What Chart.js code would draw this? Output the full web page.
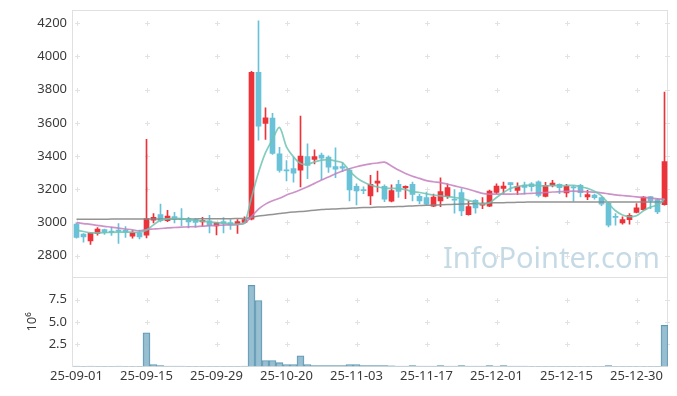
<!DOCTYPE html>
<html><head><meta charset="utf-8">
<script src="https://cdn.jsdelivr.net/npm/chart.js@4/dist/chart.umd.min.js"></script>
<style>html,body{margin:0;padding:0;background:#fff}#wrap{width:677px;height:396px}</style>
</head><body><div id="wrap"><canvas id="c"></canvas></div>
<script>
const dates = ["25-09-01","25-09-02","25-09-03","25-09-04","25-09-05","25-09-08","25-09-09","25-09-10","25-09-11","25-09-12",
"25-09-15","25-09-16","25-09-17","25-09-18","25-09-19","25-09-22","25-09-23","25-09-24","25-09-25","25-09-26",
"25-09-29","25-09-30","25-10-01","25-10-02","25-10-10","25-10-13","25-10-14","25-10-15","25-10-16","25-10-17",
"25-10-20","25-10-21","25-10-22","25-10-23","25-10-24","25-10-27","25-10-28","25-10-29","25-10-30","25-10-31",
"25-11-03","25-11-04","25-11-05","25-11-06","25-11-07","25-11-10","25-11-11","25-11-12","25-11-13","25-11-14",
"25-11-17","25-11-18","25-11-19","25-11-20","25-11-21","25-11-24","25-11-25","25-11-26","25-11-27","25-11-28",
"25-12-01","25-12-02","25-12-03","25-12-04","25-12-05","25-12-08","25-12-09","25-12-10","25-12-11","25-12-12",
"25-12-15","25-12-16","25-12-17","25-12-18","25-12-19","25-12-22","25-12-23","25-12-24","25-12-26","25-12-29",
"25-12-30","26-01-02","26-01-05","26-01-06","26-01-07"];

const opens = [2990,2930,2889,2933,2957,2947,2953,2953,2917,2937, 2923,3013,3047,3010,3035,3025,3021,3018,3003,3010,
2979,3005,2999,2987,3000,3020,3905,3597,3628,3413, 3317,3325,3315,3397,3380,3405,3393,3337,3337,3315,
3217,3197,3160,3237,3217,3128,3229,3207,3230,3157, 3149,3098,3130,3155,3141,3180,3047,3133,3103,3098,
3181,3205,3240,3193,3225,3233,3245,3157,3223,3229, 3178,3212,3223,3153,3165,3149,3115,3035,2997,3017,
3060,3077,3155,3137,3107];
const highs = [2995,2932,2937,2968,2960,2970,2993,2975,2950,2953, 3500,3053,3110,3073,3061,3083,3030,3025,3030,3043,
3000,3029,3017,3017,3033,3910,4215,3690,3657,3453, 3373,3393,3641,3473,3437,3417,3401,3449,3360,3325,
3233,3215,3283,3309,3227,3227,3253,3220,3243,3169, 3183,3170,3268,3233,3198,3203,3127,3137,3149,3195,
3233,3243,3240,3239,3243,3240,3250,3241,3253,3232, 3229,3222,3229,3193,3170,3153,3120,3053,3033,3053,
3113,3155,3157,3145,3785];
const lows = [2905,2880,2867,2923,2927,2921,2873,2910,2905,2900, 2907,2997,3003,3005,2997,2980,2967,2970,2975,2937,
2925,2937,2957,2933,2995,3015,3495,3500,3410,3303, 3250,3243,3213,3263,3353,3257,3301,3270,3305,3130,
3105,3173,3107,3183,3125,3123,3150,3143,3130,3113, 3105,3095,3095,3145,3055,3040,3043,3055,3083,3095,
3173,3175,3185,3167,3170,3188,3153,3153,3213,3173, 3153,3128,3153,3137,3140,3100,2973,2983,2989,2989,
3057,3073,3083,3053,3103];
const closes = [2910,2913,2935,2960,2940,2940,2946,2941,2939,2913, 3023,3030,3010,3038,3018,3017,3003,3000,3013,2982,
2999,2993,2985,3005,3017,3905,3580,3630,3415,3313, 3310,3297,3400,3343,3397,3387,3333,3320,3327,3195,
3189,3191,3229,3249,3140,3191,3187,3217,3168,3129, 3110,3153,3185,3209,3134,3069,3095,3087,3113,3188,
3219,3219,3228,3217,3210,3215,3163,3223,3237,3209, 3217,3208,3179,3167,3149,3110,2983,3030,3017,3043,
3087,3153,3130,3063,3367];
// volume in millions of shares
const volumes = [0.03,0.02,0.03,0.02,0.02,0.02,0.03,0.02,0.02,0.02, 3.78,0.2,0.1,0.04,0.03,0.03,0.02,0.02,0.02,0.02,
0.02,0.02,0.02,0.02,0.03,9.1,7.4,0.66,0.66,0.42, 0.2,0.2,1.2,0.2,0.1,0.1,0.1,0.1,0.1,0.2,
0.2,0.1,0.1,0.1,0.1,0.05,0.04,0.04,0.1,0.03, 0.03,0.03,0.1,0.03,0.03,0.1,0.03,0.03,0.03,0.1,
0.03,0.1,0.03,0.03,0.03,0.02,0.02,0.02,0.02,0.02, 0.02,0.02,0.02,0.02,0.02,0.02,0.1,0.02,0.02,0.02,
0.02,0.02,0.02,0.02,4.6];
const maShort = [2953,2945,2937,2937,2938,2940,2941,2941,2941,2941, 2953,2985,3013,3022,3025,3023,3017,3013,3008,3003,
2999,2995,2991,2990,2997,3150,3300,3420,3500,3572, 3455,3395,3355,3350,3365,3375,3378,3370,3360,3310,
3270,3243,3225,3213,3207,3205,3203,3197,3185,3180, 3172,3165,3160,3155,3150,3143,3133,3120,3110,3118,
3150,3180,3205,3217,3222,3225,3222,3220,3222,3222, 3222,3223,3215,3205,3187,3160,3113,3070,3045,3035,
3040,3070,3092,3105,3140];
const maMid = [2999,2993,2988,2982,2976,2971,2965,2960,2955,2949, 2957,2960,2963,2967,2969,2971,2973,2975,2978,2980,
2982,2984,2985,2987,2995,3035,3080,3110,3130,3145, 3165,3180,3197,3215,3235,3255,3273,3293,3310,3323,
3335,3345,3353,3358,3363,3340,3315,3295,3278,3265, 3252,3245,3240,3230,3220,3210,3200,3187,3175,3170,
3170,3170,3170,3171,3173,3175,3177,3180,3183,3185, 3187,3188,3186,3184,3182,3178,3172,3166,3162,3158,
3154,3150,3147,3142,3140];
const maLong = [3019,3019,3019,3019,3019,3020,3020,3020,3020,3020, 3020,3020,3021,3021,3021,3021,3021,3021,3022,3022,
3022,3022,3022,3023,3024,3030,3038,3043,3048,3053, 3058,3062,3065,3069,3073,3077,3079,3081,3083,3085,
3087,3089,3090,3092,3093,3094,3095,3097,3099,3101, 3103,3104,3106,3108,3109,3111,3112,3114,3115,3117,
3118,3119,3120,3121,3122,3123,3123,3123,3123,3123, 3123,3123,3123,3123,3123,3123,3123,3123,3123,3123,
3123,3123,3123,3123,3123];
const priceTicks = [2800,3000,3200,3400,3600,3800,4000,4200];
const volumeTicks = [2.5,5.0,7.5];
const volumeTitle = "10\u2076";
const watermark = "InfoPointer.com";

const RED = '#ec3339', BLUE = '#6ac2d9';
const candleColors = opens.map((o,i)=> closes[i] >= o ? RED : BLUE);
const FONT = {family:"'Noto Sans', 'DejaVu Sans', sans-serif", size:13};

const decor = {
  id:'decor',
  beforeDatasetsDraw(chart){
    const ctx = chart.ctx, a = chart.chartArea;
    const xs = chart.scales.x, ys = chart.scales.y, yv = chart.scales.yv;
    ctx.save();
    // watermark
    ctx.fillStyle = 'rgba(150,188,208,0.55)';
    let size = 34;
    ctx.font = size + "px 'Noto Sans', sans-serif";
    const w = ctx.measureText(watermark).width;
    size = size * 217 / w;
    ctx.font = size + "px 'Noto Sans', sans-serif";
    ctx.textBaseline = 'alphabetic';
    ctx.fillText(watermark, 443, 268);
    // frames
    ctx.strokeStyle = '#e0e0e0';
    ctx.lineWidth = 1;
    ctx.strokeRect(Math.round(a.left)-0.5, Math.round(ys.top)+0.5, Math.round(a.right-a.left), Math.round(ys.bottom-ys.top));
    ctx.strokeRect(Math.round(a.left)-0.5, Math.round(yv.top)+0.5, Math.round(a.right-a.left), Math.round(yv.bottom-yv.top));
    // crosses
    ctx.strokeStyle = '#e2e2e2';
    const xsPix = [];
    for (let i=0;i<dates.length;i+=10) xsPix.push(xs.getPixelForValue(i));
    xsPix.push(a.right-1);
    const ysPix = priceTicks.map(v=>ys.getPixelForValue(v)).concat(volumeTicks.map(v=>yv.getPixelForValue(v)));
    ctx.beginPath();
    for (const px of xsPix) for (const py of ysPix) {
      const X = Math.round(px)+0.5, Y = Math.round(py)+0.5;
      ctx.moveTo(X-2.5,Y); ctx.lineTo(X+2.5,Y);
      ctx.moveTo(X,Y-2.5); ctx.lineTo(X,Y+2.5);
    }
    ctx.stroke();
    ctx.restore();
  }
};

const fitY = s => { s.width = 53; s.paddingTop = 0; s.paddingBottom = 0; };

new Chart(document.getElementById('c'), {
  data: {
    labels: dates,
    datasets: [
      {type:'line', data: maShort, yAxisID:'y', borderColor:'rgba(110,195,178,0.85)', borderWidth:1.7, pointRadius:0, tension:0.3, order:0},
      {type:'line', data: maMid, yAxisID:'y', borderColor:'rgba(196,128,190,0.85)', borderWidth:1.7, pointRadius:0, tension:0.3, order:0},
      {type:'line', data: maLong, yAxisID:'y', borderColor:'rgba(135,135,135,0.9)', borderWidth:1.5, pointRadius:0, tension:0.3, order:0},
      {type:'bar', data: opens.map((o,i)=>[o, closes[i]]), yAxisID:'y', backgroundColor:candleColors, barThickness:5, minBarLength:1, grouped:false, order:1},
      {type:'bar', data: lows.map((l,i)=>[l, highs[i]]), yAxisID:'y', backgroundColor:candleColors, barThickness:1, grouped:false, order:2},
      {type:'bar', data: volumes, yAxisID:'yv', backgroundColor:'rgba(140,184,204,0.9)', borderColor:'#5e98b3', borderWidth:1, barPercentage:1, categoryPercentage:1, grouped:false, order:3}
    ]
  },
  options: {
    responsive:true, maintainAspectRatio:false, animation:false,
    layout:{padding:{left:20, top:10, right:9, bottom:10}},
    plugins:{legend:{display:false}, tooltip:{enabled:false}},
    scales:{
      x:{type:'category', offset:true,
        grid:{display:false, drawTicks:false}, border:{display:false},
        afterBuildTicks: s => { s.ticks = s.ticks.filter(t => t.value % 10 === 0); },
        afterFit: s => { s.paddingLeft = 0; s.paddingRight = 0; },
        ticks:{autoSkip:false, maxRotation:0, padding:2, color:'#3a3a3a', font:FONT,
          callback: v => dates[v]}
      },
      yv:{type:'linear', position:'left', stack:'s', stackWeight:1, min:0, max:10,
        afterBuildTicks: s => { s.ticks = volumeTicks.map(v=>({value:v})); },
        afterFit: fitY,
        grid:{display:false, drawTicks:false}, border:{display:false},
        title:{display:true, text:volumeTitle, color:'#3a3a3a', font:FONT, padding:{top:4,bottom:4}},
        ticks:{padding:6, color:'#3a3a3a', font:FONT, callback: v => v.toFixed(1)}
      },
      y:{type:'linear', position:'left', stack:'s', stackWeight:3, min:2669, max:4280,
        afterBuildTicks: s => { s.ticks = priceTicks.map(v=>({value:v})); },
        afterFit: fitY,
        grid:{display:false, drawTicks:false}, border:{display:false},
        ticks:{padding:6, color:'#3a3a3a', font:FONT, callback: v => String(v)}
      }
    }
  },
  plugins:[decor]
});
</script>
</body></html>
